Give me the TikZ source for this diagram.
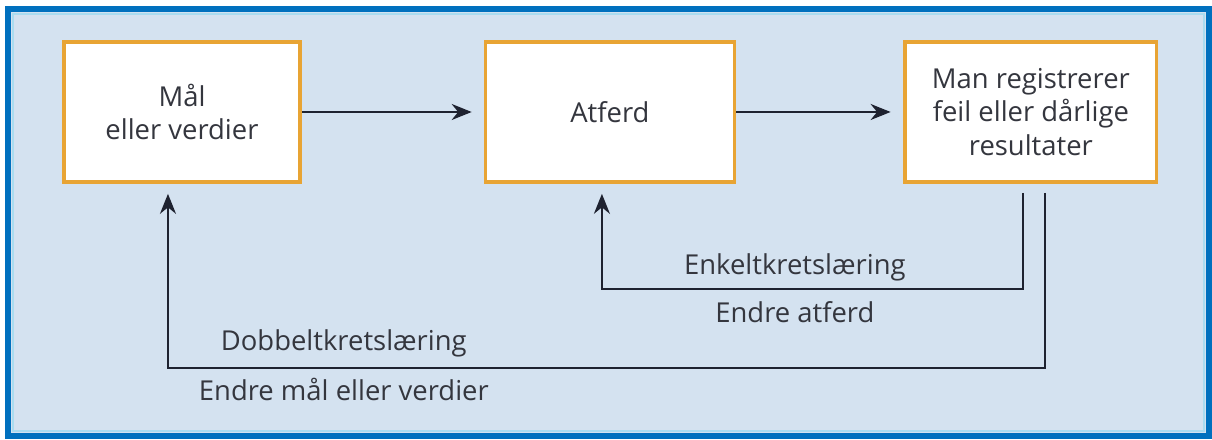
\documentclass[tikz,border=0pt]{standalone}
\usepackage{fontspec}
\setmainfont{Open Sans}
\usepackage{tikz}
\usetikzlibrary{arrows.meta, positioning, calc}

\definecolor{panel}{RGB}{212,226,240}
\definecolor{frameblue}{RGB}{0,112,190}
\definecolor{frameline}{RGB}{170,220,240}
\definecolor{boxorange}{RGB}{232,164,52}
\definecolor{ink}{RGB}{30,34,48}
\definecolor{textgray}{RGB}{52,54,62}

\begin{document}
\begin{tikzpicture}[
    x=0.025cm, y=-0.025cm,
    stage/.style={rectangle, draw=boxorange, line width=2.6pt, fill=white, text=textgray, align=center, minimum height=3.5cm, font=\fontsize{19.5}{24}\selectfont},
    flow/.style={-{Stealth[length=5mm, width=4mm]}, line width=1.6pt, draw=ink},
    loop/.style={font=\fontsize{19.5}{24}\selectfont, text=textgray},
]
    % panel with frame
    \fill[white] (0,0) rectangle (1212,438);
    \fill[panel] (8,9) rectangle (1209,436);
    \draw[frameline, line width=1.2pt] (13,14) rectangle (1204,431);
    \draw[frameblue, line width=4.5pt] (8,9) rectangle (1209,436);

    % the three steps
    \node[stage, minimum width=5.9cm] (goal) at (182,112) {Mål\\eller verdier};
    \node[stage, minimum width=6.22cm] (act) at (610,112) {Atferd};
    \node[stage, minimum width=6.28cm] (result) at (1031,112) {Man registrerer\\feil eller dårlige\\resultater};

    % forward arrows
    \draw[flow, shorten >=0.3cm] (goal.east) -- (act.west);
    \draw[flow, shorten >=0.32cm] (act.east) -- (result.west);

    % single loop
    \coordinate (s1) at (1023,193);
    \draw[flow, shorten >=0.25cm] (s1) -- (1023,289) -| ([xshift=-0.2cm]act.south);
    \node[loop] (single) at (795,267) {Enkeltkretslæring};
    \node[loop] (singlechg) at (795,312) {Endre atferd};

    % double loop
    \coordinate (s2) at (1045,193);
    \draw[flow, shorten >=0.25cm] (s2) -- (1045,368) -| ([xshift=-0.35cm]goal.south);
    \node[loop, anchor=west] (double) at (216,343) {Dobbeltkretslæring};
    \node[loop, anchor=west] (doublechg) at (194,390) {Endre mål eller verdier};
\end{tikzpicture}
\end{document}
